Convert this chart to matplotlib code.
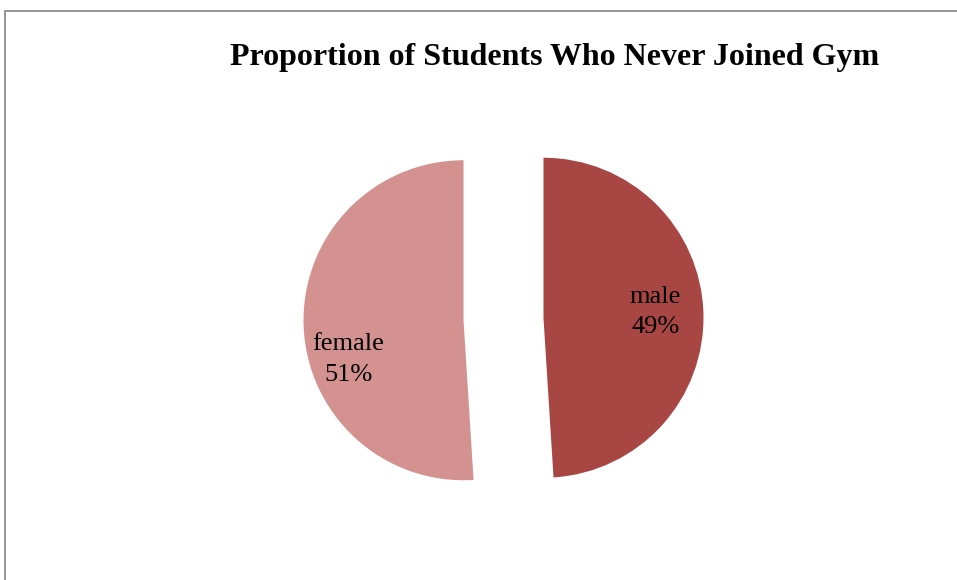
import matplotlib
matplotlib.use("Agg")
import matplotlib.pyplot as plt
from matplotlib.patches import Rectangle
import numpy as np

categories = ["male", "female"]
values = [49, 51]
colors = ["#A84644", "#D39190"]
title = "Proportion of Students Who Never Joined Gym"

W, H = 957, 580
fig = plt.figure(figsize=(W / 100, H / 100), dpi=100)
fig.patch.set_facecolor("white")

# outer border (left and top visible)
fig.patches.append(Rectangle((5 / W, -0.1), 1.2, 1.1 - 11 / H, transform=fig.transFigure,
                             fill=False, edgecolor="#8c8c8c", linewidth=1.3))

ax = fig.add_axes([0, 0, 1, 1])
R = 160.0
cx, cy = 503.5, 319.0

wedges, _ = ax.pie(values, colors=colors, startangle=90, counterclock=False,
                   explode=[0.25, 0.25], radius=1.0, center=(0, 0), frame=True)
ax.set_xlim(-cx / R, (W - cx) / R)
ax.set_ylim(-(H - cy) / R, cy / R)
ax.axis("off")
ax.set_aspect("auto")

label_offsets = [(0.70, 0.035), (-0.72, -0.245)]
for w, cat, v, off in zip(wedges, categories, values, label_offsets):
    c = w.center
    ax.text(c[0] + off[0], c[1] + off[1], f"{cat}\n{v}%", ha="center", va="center",
            fontsize=19, family="Liberation Serif", color="black", linespacing=1.5)

fig.text(555 / W, 1 - 58 / H, title, ha="center", va="center", fontsize=23,
         fontweight="bold", family="Liberation Serif")

fig.savefig("out.png", dpi=100)
